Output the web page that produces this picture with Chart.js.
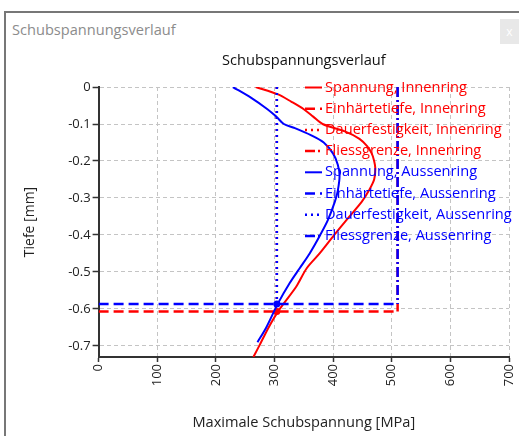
<!DOCTYPE html>
<html><head><meta charset="utf-8">
<script src="https://cdn.jsdelivr.net/npm/chart.js@4.4.0/dist/chart.umd.min.js"></script>
<style>
html,body{margin:0;padding:0;background:#fff;width:519px;height:436px;overflow:hidden;}
#frame{position:absolute;left:4px;top:11px;width:600px;height:500px;border:2px solid #777;box-sizing:border-box;}
#wtitle{position:absolute;left:12px;top:19px;font:14.6px 'Open Sans';color:#8c8c8c;}
#close{position:absolute;left:500px;top:19px;width:19px;height:25px;background:#e8e8e8;color:#fff;font:12px 'Open Sans';text-align:center;line-height:25px;}
canvas{position:absolute;left:0;top:0;}
</style></head>
<body>
<div id="frame"></div>
<div id="wtitle">Schubspannungsverlauf</div>
<div id="close">x</div>
<canvas id="c" width="519" height="436"></canvas>
<script>
// ---- data ----
const innenTiefe     = [0, -0.02, -0.04, -0.06, -0.08, -0.10, -0.12, -0.14, -0.16, -0.18, -0.20, -0.22, -0.25, -0.28, -0.31, -0.35, -0.40, -0.45, -0.49, -0.54, -0.60, -0.65, -0.70, -0.73];
const innenSpannung  = [268, 306, 329, 350, 366, 382, 420, 445, 458, 466, 470, 472, 470, 461, 449, 428, 402, 377, 355, 337, 309, 290, 274, 264];
const aussenTiefe    = [0, -0.03, -0.06, -0.08, -0.10, -0.11, -0.13, -0.15, -0.18, -0.21, -0.24, -0.28, -0.31, -0.36, -0.40, -0.45, -0.49, -0.53, -0.585, -0.65, -0.69];
const aussenSpannung = [229, 261, 288, 303, 316, 333, 362, 384, 400, 408, 411, 408, 403, 391, 378, 360, 343, 326, 306, 286, 271];
const einhaertetiefe = { innen: -0.607, aussen: -0.587 };
const dauerfestigkeit = { innen: 304, aussen: 304 };
const fliessgrenze = { innen: 510, aussen: 510 };
const xTicks = [0, 100, 200, 300, 400, 500, 600, 700];
const yTicks = [-0.7, -0.6, -0.5, -0.4, -0.3, -0.2, -0.1, 0];
const legendLabels = ['Spannung, Innenring','Einhärtetiefe, Innenring','Dauerfestigkeit, Innenring','Fliessgrenze, Innenring',
                      'Spannung, Aussenring','Einhärtetiefe, Aussenring','Dauerfestigkeit, Aussenring','Fliessgrenze, Aussenring'];

const RED = '#ff0000', BLUE = '#0000ff';
const FONT = 'Open Sans';
const pts = (xs, ys) => xs.map((x, i) => ({ x: x, y: ys[i] }));

function ringSets(key, color, tiefe, spannung, li) {
  return [
    { label: legendLabels[li], data: pts(spannung, tiefe), borderColor: color, borderWidth: 2, pointRadius: 0, tension: 0.3, legendIndex: li },
    { label: legendLabels[li+1], data: pts([0, fliessgrenze[key]], [einhaertetiefe[key], einhaertetiefe[key]]), borderColor: color, borderWidth: 2.5, borderDash: [10, 5], pointRadius: 0, legendIndex: li+1 },
    { label: legendLabels[li+2], data: pts([dauerfestigkeit[key], dauerfestigkeit[key]], [0, einhaertetiefe[key]]), borderColor: color, backgroundColor: color, borderWidth: 2.5, borderDash: [2, 4], pointRadius: [0, 3.5], pointBorderWidth: 0, legendIndex: li+2 },
    { label: legendLabels[li+3], data: pts([fliessgrenze[key], fliessgrenze[key]], [0, einhaertetiefe[key]]), borderColor: color, borderWidth: 2.5, borderDash: [10, 3, 2, 3], pointRadius: 0, legendIndex: li+3 }
  ];
}

const datasets = [].concat(
  ringSets('aussen', BLUE, aussenTiefe, aussenSpannung, 4),
  ringSets('innen', RED, innenTiefe, innenSpannung, 0)
);

const legendPlugin = {
  id: 'customLegend',
  afterDraw(chart) {
    const ctx = chart.ctx;
    const items = chart.data.datasets.slice().sort((a, b) => a.legendIndex - b.legendIndex);
    const x0 = 305, y0 = 87.5, dy = 21.2;
    ctx.save();
    ctx.font = '14.6px "' + FONT + '"';
    ctx.textBaseline = 'middle';
    items.forEach((ds, i) => {
      const y = y0 + i * dy;
      ctx.strokeStyle = ds.borderColor;
      ctx.lineWidth = ds.borderWidth;
      ctx.setLineDash(ds.borderDash || []);
      ctx.beginPath(); ctx.moveTo(x0, y); ctx.lineTo(x0 + 17, y); ctx.stroke();
      ctx.setLineDash([]);
      ctx.fillStyle = ds.borderColor;
      ctx.fillText(ds.label, x0 + 20, y);
    });
    ctx.restore();
  }
};

const tickFont = { family: FONT, size: 13 };
new Chart(document.getElementById('c'), {
  type: 'line',
  data: { datasets: datasets },
  plugins: [legendPlugin],
  options: {
    responsive: false, animation: false, events: [],
    layout: { padding: { left: 18, right: 10, top: 52, bottom: 0 } },
    plugins: {
      legend: { display: false },
      tooltip: { enabled: false },
      title: { display: true, text: 'Schubspannungsverlauf', fullSize: false, color: '#111',
               font: { family: FONT, size: 14.6, weight: 'normal' }, padding: { top: 0, bottom: 17.5 } }
    },
    scales: {
      x: {
        type: 'linear', min: 0, max: 700,
        afterBuildTicks: s => { s.ticks = xTicks.map(v => ({ value: v })); },
        afterFit: s => { s.height = 79; s.paddingRight = 0; s.paddingLeft = 0; },
        ticks: { minRotation: 90, maxRotation: 90, color: '#222', font: tickFont, padding: 2, callback: v => String(v) },
        grid: { color: '#c4c4c4', lineWidth: 1, tickColor: '#333', tickLength: 5, tickWidth: 1.5 },
        border: { color: '#333', width: 2, dash: [4, 3] },
        title: { display: true, text: 'Maximale Schubspannung [MPa]', color: '#222', font: { family: FONT, size: 14.6 }, padding: { top: 0, bottom: 4.3 } }
      },
      y: {
        type: 'linear', min: -0.73, max: 0,
        afterBuildTicks: s => { s.ticks = yTicks.map(v => ({ value: v })); },
        afterFit: s => { s.width = 80.6; },
        ticks: { color: '#222', font: tickFont, padding: 2, callback: v => String(v) },
        grid: { color: '#c4c4c4', lineWidth: 1, tickColor: '#333', tickLength: 6, tickWidth: 1.5 },
        border: { color: '#333', width: 2, dash: [4, 3] },
        title: { display: true, text: 'Tiefe [mm]', color: '#222', font: { family: FONT, size: 14 }, padding: { top: 4, bottom: 0 } }
      }
    }
  }
});
</script>
</body></html>
